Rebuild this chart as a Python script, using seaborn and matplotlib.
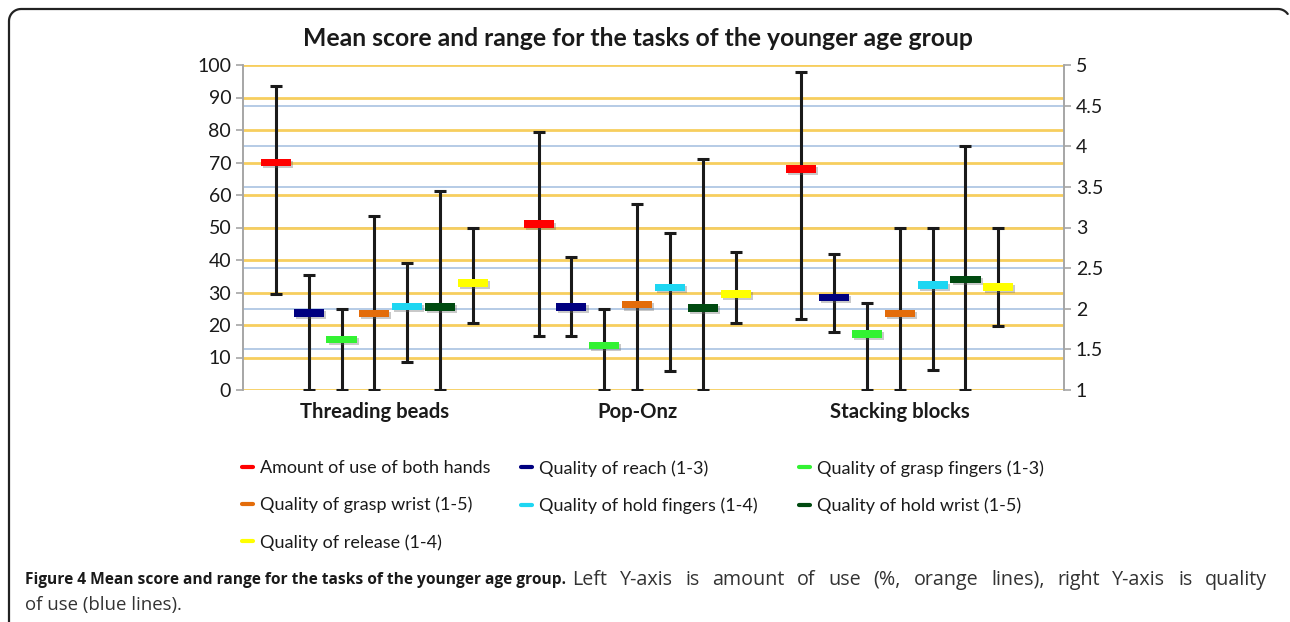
import numpy as np
import pandas as pd
import matplotlib
matplotlib.use("Agg")
import matplotlib.pyplot as plt
import matplotlib.patheffects as pe
import matplotlib.transforms as mtransforms
from matplotlib.lines import Line2D
import seaborn as sns

# data
tasks = ["Threading beads", "Pop-Onz", "Stacking blocks"]
measures = ["Amount of use of both hands", "Quality of reach (1-3)", "Quality of grasp fingers (1-3)",
            "Quality of grasp wrist (1-5)", "Quality of hold fingers (1-4)", "Quality of hold wrist (1-5)",
            "Quality of release (1-4)"]
colors = ["#FF0000", "#000080", "#33F233", "#E36C0A", "#1ED6F2", "#004A10", "#FFFF00"]

# amount of use (%), left axis
amount_mean = [70, 51, 68]
amount_low = [29.5, 16.5, 22]
amount_high = [93.5, 79.5, 98]

# quality scores, right axis
reach_mean = [1.95, 2.02, 2.14]
reach_low = [1.0, 1.66, 1.72]
reach_high = [2.42, 2.64, 2.67]
grasp_fingers_mean = [1.62, 1.55, 1.69]
grasp_fingers_low = [1.0, 1.0, 1.0]
grasp_fingers_high = [2.0, 2.0, 2.07]
grasp_wrist_mean = [1.94, 2.05, 1.94]
grasp_wrist_low = [1.0, 1.0, 1.0]
grasp_wrist_high = [3.14, 3.29, 3.0]
hold_fingers_mean = [2.03, 2.26, 2.29]
hold_fingers_low = [1.34, 1.23, 1.25]
hold_fingers_high = [2.56, 2.93, 3.0]
hold_wrist_mean = [2.02, 2.01, 2.36]
hold_wrist_low = [1.0, 1.0, 1.0]
hold_wrist_high = [3.45, 3.84, 4.0]
release_mean = [2.32, 2.18, 2.27]
release_low = [1.82, 1.82, 1.79]
release_high = [3.0, 2.70, 3.0]

quality = [
    (reach_mean, reach_low, reach_high),
    (grasp_fingers_mean, grasp_fingers_low, grasp_fingers_high),
    (grasp_wrist_mean, grasp_wrist_low, grasp_wrist_high),
    (hold_fingers_mean, hold_fingers_low, hold_fingers_high),
    (hold_wrist_mean, hold_wrist_low, hold_wrist_high),
    (release_mean, release_low, release_high),
]

step = 0.125
rows = []
for t, task in enumerate(tasks):
    rows.append(dict(task=task, measure=measures[0], x=t - 3 * step,
                     mean=amount_mean[t], low=amount_low[t], high=amount_high[t], side="left"))
    for m, (mn, lo, hi) in enumerate(quality, start=1):
        rows.append(dict(task=task, measure=measures[m], x=t + (m - 3) * step,
                         mean=mn[t], low=lo[t], high=hi[t], side="right"))
df = pd.DataFrame(rows)

sns.set_style("white")
plt.rcParams["font.family"] = ["Lato", "DejaVu Sans"]

W, H = 1290, 622
fig = plt.figure(figsize=(W / 100, H / 100), dpi=100)
ax = fig.add_axes([243 / W, 1 - 390 / H, (1064 - 243) / W, 325 / H])
ax2 = ax.twinx()

ax.set_xlim(-0.5, 2.625)
ax.set_ylim(0, 100)
ax2.set_ylim(1, 5)

# gridlines: orange for left axis, blue for right axis (both kept in the bottom layer)
blue_tr = mtransforms.blended_transform_factory(ax.transAxes, ax2.transData)
ax.hlines(np.arange(1.5, 5.0, 0.5), 0, 1, transform=blue_tr, color="#B5CBE6", lw=1.4, zorder=0.5)
ax.hlines(np.arange(0, 101, 10), -0.5, 2.625, color="#F7CE5E", lw=2, zorder=0.6)

marker = [(-1, -0.25), (1, -0.25), (1, 0.25), (-1, 0.25), (-1, -0.25)]
shadow = [pe.SimplePatchShadow(offset=(1.5, -1.5), shadow_rgbFace="#666666", alpha=0.35), pe.Normal()]

pal = dict(zip(measures, colors))
for side, axis in (("left", ax), ("right", ax2)):
    d = df[df["side"] == side]
    axis.errorbar(d["x"], d["mean"], yerr=[d["mean"] - d["low"], d["high"] - d["mean"]],
                  fmt="none", ecolor="#1a1a1a", elinewidth=2.2, capsize=4, capthick=2.2, zorder=3)
    sns.scatterplot(data=d, x="x", y="mean", hue="measure", palette=pal, marker=marker,
                    s=470, linewidth=0, legend=False, ax=axis, zorder=4)
    axis.collections[-1].set_path_effects(shadow)

# axes styling
ax.set_xticks(range(len(tasks)))
ax.set_xticklabels(tasks, fontsize=14.6, fontweight="bold", color="#1a1a1a")
ax.tick_params(axis="x", length=0, pad=9)
ax.set_yticks(np.arange(0, 101, 10))
ax.tick_params(axis="y", labelsize=14, colors="#1a1a1a", length=5, color="#A6A6A6", width=1.2)
ax2.set_yticks(np.arange(1, 5.01, 0.5))
ax2.set_yticklabels(["1", "1.5", "2", "2.5", "3", "3.5", "4", "4.5", "5"])
ax2.tick_params(axis="y", labelsize=14, colors="#1a1a1a", length=5, color="#A6A6A6", width=1.2)
for a in (ax, ax2):
    a.set_xlabel("")
    a.set_ylabel("")
    for s in ("top", "bottom"):
        a.spines[s].set_visible(False)
    for s in ("left", "right"):
        a.spines[s].set_color("#A6A6A6")
        a.spines[s].set_linewidth(1.2)
ax2.tick_params(axis="x", length=0)

fig.text(638 / W, 1 - 38 / H, "Mean score and range for the tasks of the younger age group",
         ha="center", va="center", fontsize=17.8, fontweight="bold", color="#1a1a1a")

# legend: three columns, filled row by row in the reference
legend_cols = [[0, 3, 6], [1, 4], [2, 5]]
legend_x = [226, 505, 783]
for col, lx in zip(legend_cols, legend_x):
    handles = [Line2D([], [], color=colors[i], lw=3) for i in col]
    labels = [measures[i] for i in col]
    fig.legend(handles, labels, loc="upper left", bbox_to_anchor=(lx / W, 1 - 444 / H), ncol=1,
               frameon=False, fontsize=13, handlelength=0.6, handletextpad=0.4, labelspacing=1.14,
               labelcolor="#1a1a1a")

# frame: left edge, rounded top-left corner, top edge, start of the top-right corner
r = 12
top = H - 9
a1 = np.linspace(np.pi, np.pi / 2, 12)
a2 = np.linspace(np.pi / 2, np.pi / 5, 8)
fx = np.concatenate([[9], 9 + r + r * np.cos(a1), 1278 + r * np.cos(a2)])
fy = np.concatenate([[-5], top - r + r * np.sin(a1), top - r + r * np.sin(a2)])
fig.add_artist(Line2D(fx / W, fy / H, transform=fig.transFigure, color="#222222", lw=1.6))

# caption: bold lead-in, then the rest of the first line justified to the right margin
renderer = fig.canvas.get_renderer()
cap_font = ["Open Sans", "DejaVu Sans"]
bold_part = "Figure 4 Mean score and range for the tasks of the younger age group."
plain_part = "Left Y-axis is amount of use (%, orange lines), right Y-axis is quality"
tb = fig.text(25 / W, 1 - 580 / H, bold_part, ha="left", va="center", fontsize=11.2,
              fontweight="bold", family=cap_font, color="#1a1a1a")
start = tb.get_window_extent(renderer).x1 + 6
items = []
for w in plain_part.split():
    t = fig.text(0, 1 - 580 / H, w, ha="left", va="center", fontsize=14.2,
                 family=cap_font, color="#333333")
    items.append((t, t.get_window_extent(renderer).width))
gap = (1267 - start - sum(wd for _, wd in items)) / (len(items) - 1)
x = start
for t, wd in items:
    t.set_x(x / W)
    x += wd + gap
fig.text(25 / W, 1 - 605 / H, "of use (blue lines).", ha="left", va="center", fontsize=13.4,
         family=cap_font, color="#333333")

fig.savefig("out.png", dpi=100)
